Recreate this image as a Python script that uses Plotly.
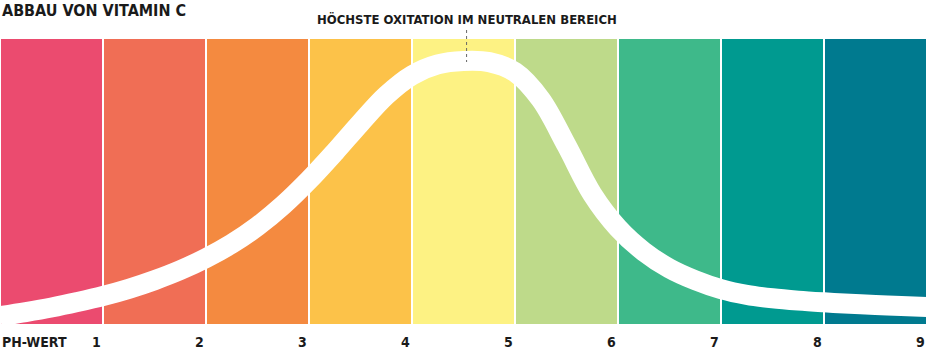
import plotly.graph_objects as go

# pH bands
band_centers = [0.5, 1.5, 2.5, 3.5, 4.5, 5.5, 6.5, 7.5, 8.5]
band_heights = [100] * 9
band_colors = ["#EB4B6F", "#F06E55", "#F48A40", "#FCC249", "#FDF283",
               "#BEDA8A", "#3EB98A", "#009A90", "#007A8F"]

# degradation curve (pH, relative oxidation)
curve_ph = [0.0, 0.25, 0.5, 0.75, 1.0, 1.25, 1.5, 1.75, 2.0, 2.25, 2.5, 2.75, 3.0,
            3.25, 3.5, 3.75, 4.0, 4.25, 4.5, 4.75, 5.0, 5.25, 5.5, 5.75, 6.0,
            6.25, 6.5, 6.75, 7.0, 7.25, 7.5, 7.75, 8.0, 8.25, 8.5, 8.75, 9.0]
curve_val = [3.1, 4.5, 6.1, 8.0, 10.1, 12.6, 15.6, 19.1, 23.3, 28.3, 34.4, 41.8, 50.5,
             60.2, 70.4, 80.0, 87.0, 90.8, 92.0, 91.6, 88.1, 78.6, 62.6, 45.6, 33.8,
             25.6, 19.7, 15.6, 12.5, 10.5, 9.3, 8.5, 7.9, 7.4, 7.0, 6.6, 6.3]

tick_vals = [1, 2, 3, 4, 5, 6, 7, 8, 9]
tick_text = ["1", "2", "3", "4", "5", "6", "7", "8", "9"]

title_text = "ABBAU VON VITAMIN C"
note_text = "HÖCHSTE OXITATION IM NEUTRALEN BEREICH"
note_ph = 4.53
axis_label = "PH-WERT"

FONT = "DejaVu Sans Condensed, Liberation Sans Narrow, sans-serif"
INK = "#1a1a1a"
PLOT_H = 351 - 38 - 26

fig = go.Figure()
fig.add_trace(go.Bar(
    x=band_centers, y=band_heights, width=1,
    marker=dict(color=band_colors, line=dict(color="white", width=2)),
    hoverinfo="skip", showlegend=False,
))
fig.add_trace(go.Scatter(
    x=curve_ph, y=curve_val, mode="lines",
    line=dict(color="white", width=20, shape="spline", smoothing=1.0, simplify=False),
    hoverinfo="skip", showlegend=False,
))

bottom_y = -26 / PLOT_H
annotations = [
    dict(text="<b>" + title_text + "</b>", x=0, xref="paper", xanchor="left",
         y=1 + 38 / PLOT_H, yref="paper", yanchor="top", showarrow=False, borderpad=0,
         xshift=1, font=dict(family=FONT, size=16, color=INK)),
    dict(text="<b>" + note_text + "</b>", x=note_ph, xref="x", xanchor="center",
         y=1 + 10 / PLOT_H, yref="paper", yanchor="bottom", showarrow=False, borderpad=0,
         font=dict(family=FONT, size=13, color=INK)),
    dict(text="<b>" + axis_label + "</b>", x=0, xref="paper", xanchor="left",
         y=bottom_y, yref="paper", yanchor="bottom", showarrow=False, xshift=1, borderpad=0,
         font=dict(family=FONT, size=14, color=INK)),
]
for v, t in zip(tick_vals, tick_text):
    annotations.append(dict(text="<b>" + t + "</b>", x=v, xref="x", xanchor="right",
                            y=bottom_y, yref="paper", yanchor="bottom", showarrow=False,
                            borderpad=0, xshift=-1,
                            font=dict(family=FONT, size=14, color=INK)))

fig.update_layout(
    width=927, height=351,
    margin=dict(l=0, r=0, t=38, b=26),
    paper_bgcolor="white", plot_bgcolor="white",
    bargap=0,
    xaxis=dict(range=[0, 9], visible=False, fixedrange=True),
    yaxis=dict(range=[0, 100], visible=False, fixedrange=True),
    annotations=annotations,
    shapes=[dict(type="line", xref="x", yref="paper", x0=note_ph, x1=note_ph,
                 y0=1 + 8 / PLOT_H, y1=(325 - 62) / PLOT_H,
                 line=dict(color="#666666", width=1, dash="dot"))],
)

fig.write_html("out.html")
